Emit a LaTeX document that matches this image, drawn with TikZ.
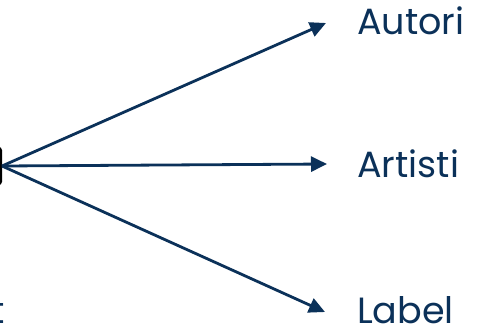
\documentclass[tikz,border=0pt]{standalone}
\usepackage{fontspec}
\setmainfont{Poppins}
\usetikzlibrary{arrows.meta}
\definecolor{navy}{HTML}{0B3159}
\begin{document}
\begin{tikzpicture}[x=1pt,y=-1pt,
  conn/.style={draw=navy,line width=2.8pt,-{Triangle[length=16pt,width=15pt]}},
  lbl/.style={text=navy,font=\fontsize{36.5}{40}\selectfont,inner sep=0pt,anchor=base west}]
\useasboundingbox (0,0) rectangle (487,330);
\clip (0,0) rectangle (487,330);
\node[draw=black,line width=3pt,rounded corners=3pt,minimum width=60pt,minimum height=36pt,anchor=east] (src) at (2.2,166) {};
\coordinate (o) at (2,166);
\node[lbl] (autori) at (357,34) {Autori};
\node[lbl] (artisti) at (357,177) {Artisti};
\node[lbl] (label) at (357,323) {Label};
\node[text=navy,font=\fontsize{36.5}{40}\selectfont,inner sep=0pt,anchor=base east] (cut) at (5,323) {t};
\coordinate (tA) at (326,23);
\coordinate (tB) at (327,164);
\coordinate (tC) at (325,312);
\draw[conn] (o) -- (tA);
\draw[conn] (o) -- (tB);
\draw[conn] (o) -- (tC);
\end{tikzpicture}
\end{document}
